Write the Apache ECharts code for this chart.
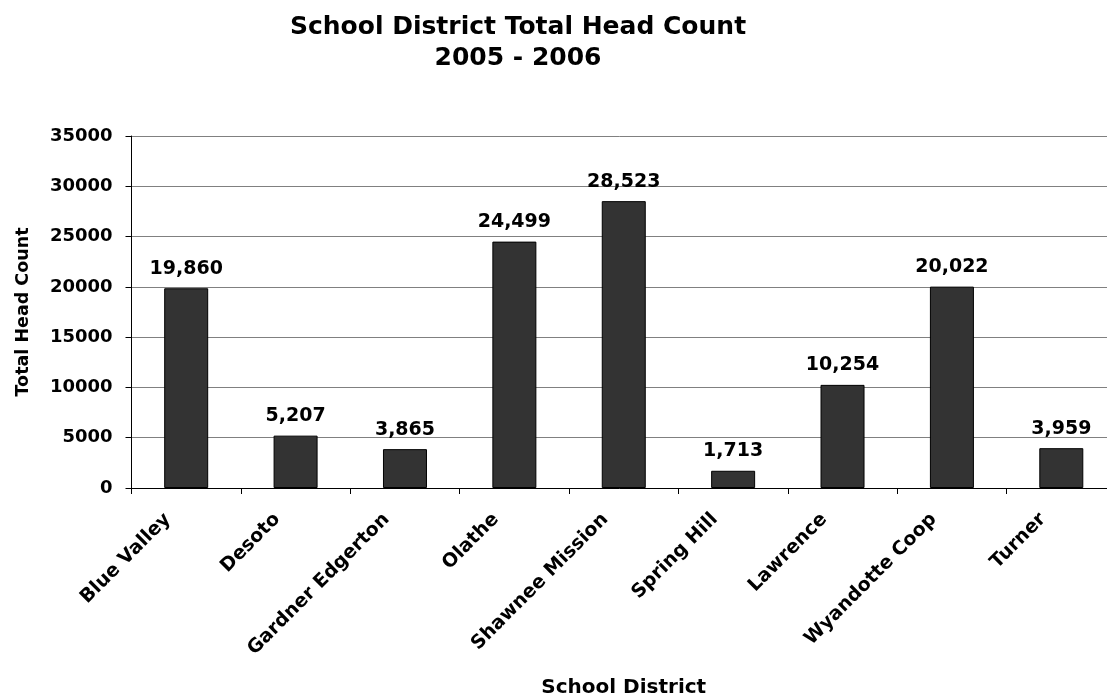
<!DOCTYPE html>
<html>
<head>
<meta charset="utf-8">
<script src="https://cdn.jsdelivr.net/npm/echarts@6/dist/echarts.min.js"></script>
<style>html,body{margin:0;padding:0;background:#fff}#c{width:1107px;height:698px}</style>
</head>
<body>
<div id="c"></div>
<script>
const categories = ['Blue Valley', 'Desoto', 'Gardner Edgerton', 'Olathe', 'Shawnee Mission', 'Spring Hill', 'Lawrence', 'Wyandotte Coop', 'Turner'];
const headCounts = [19860, 5207, 3865, 24499, 28523, 1713, 10254, 20022, 3959];
const titleLines = ['School District Total Head Count', '2005 - 2006'];
const xAxisTitle = 'School District';
const yAxisTitle = 'Total Head Count';

const FONT = '"DejaVu Sans", Arial, sans-serif';
const chart = echarts.init(document.getElementById('c'), null, {renderer: 'canvas'});
chart.setOption({
  backgroundColor: '#ffffff',
  animation: false,
  graphic: [{
    type: 'text',
    position: [518, 12],
    style: {
      text: titleLines.join('\n'), x: 0, y: 0,
      font: 'bold 25px ' + FONT, fill: '#000', textAlign: 'center', lineHeight: 31
    }
  }],
  grid: {left: 131.5, right: -9, top: 136, bottom: 210, containLabel: false, outerBoundsMode: 'none'},
  xAxis: {
    type: 'category', data: categories,
    name: xAxisTitle, nameLocation: 'middle', nameGap: 190,
    nameTextStyle: {fontFamily: FONT, fontWeight: 'bold', fontSize: 20, color: '#000'},
    axisLine: {lineStyle: {color: '#000', width: 1}},
    axisTick: {show: true, length: 6, lineStyle: {color: '#000'}},
    axisLabel: {rotate: 45, interval: 0, margin: 10,
      formatter: v => '{a|' + v + '}{s|}',
      rich: {
        a: {fontFamily: FONT, fontWeight: 'bold', fontSize: 19, color: '#000'},
        s: {width: 26}
      },
      fontFamily: FONT, fontWeight: 'bold', fontSize: 19, color: '#000'},
    splitLine: {show: false}
  },
  yAxis: {
    type: 'value', min: 0, max: 35000, interval: 5000,
    name: yAxisTitle, nameLocation: 'middle', nameGap: 99, nameRotate: 90,
    nameTextStyle: {fontFamily: FONT, fontWeight: 'bold', fontSize: 17.5, color: '#000'},
    axisLine: {show: true, lineStyle: {color: '#000', width: 1}},
    axisTick: {show: true, length: 6, lineStyle: {color: '#000'}},
    axisLabel: {margin: 19, formatter: v => String(v),
      fontFamily: FONT, fontWeight: 'bold', fontSize: 18, color: '#000'},
    splitLine: {show: true, lineStyle: {color: '#808080', width: 1}}
  },
  series: [{
    type: 'bar', data: headCounts, barWidth: 44,
    itemStyle: {color: '#333333', borderColor: '#000', borderWidth: 1},
    label: {show: true, position: 'top', distance: 10,
      fontFamily: FONT, fontWeight: 'bold', fontSize: 19, color: '#000',
      formatter: p => p.value.toLocaleString('en-US')}
  }]
});
</script>
</body>
</html>
